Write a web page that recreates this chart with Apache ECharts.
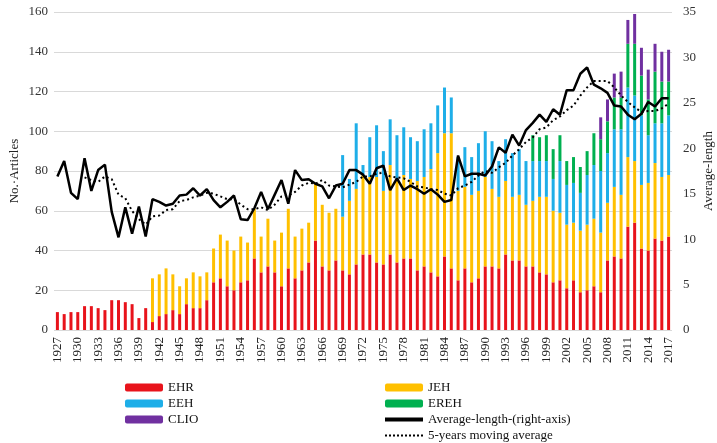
<!DOCTYPE html>
<html>
<head>
<meta charset="utf-8">
<script src="https://cdn.jsdelivr.net/npm/echarts@6/dist/echarts.min.js"></script>
<style>
  html, body { margin: 0; padding: 0; background: #fff; }
  #myChart { width: 717px; height: 443px; }
</style>
</head>
<body>
<div id="myChart"></div>
<script>
// years 1927 - 2017
var years = [];
for (var y = 1927; y <= 2017; y++) years.push(String(y));

// number of articles per journal (stacked)
var ehr = [9,8,9,9,12,12,11,10,15,15,14,13,6,11,
  4,7,8,10,8,13,11,11,15,24,
  26,22,20,24,25,36,29,32,29,22,
  31,26,30,34,45,32,30,35,30,28,
  33,38,38,34,33,38,34,36,36,30,
  32,29,27,37,31,25,31,24,26,32,
  32,31,38,35,35,32,32,29,28,24,
  25,21,25,19,20,22,19,35,37,36,
  52,54,41,40,46,45,47];

var jeh = [null,null,null,null,null,null,null,null,null,null,null,null,null,null,
  22,21,23,18,14,13,18,16,14,17,
  22,23,20,23,19,25,18,24,16,27,
  30,21,21,20,29,31,29,26,27,37,
  38,40,39,43,37,45,41,42,40,45,
  45,52,62,62,68,45,41,44,44,45,
  39,36,37,32,33,31,33,38,39,36,
  34,32,29,31,33,34,30,29,35,32,
  35,31,32,34,38,32,31];

var eeh = [null,null,null,null,null,null,null,null,null,null,
  null,null,null,null,null,null,null,null,null,null,
  null,null,null,null,null,null,null,null,null,null,
  null,null,null,null,null,null,null,null,null,null,
  null,null,
  31,11,
  33,5,20,26,20,23,23,24,21,20,
  24,23,24,23,18,17,20,19,24,23,
  24,18,21,22,23,22,20,18,18,16,
  26,20,20,19,25,27,31,25,29,33,
  35,33,35,24,20,27,30];

var ereh = [null,null,null,null,null,null,null,null,null,null,
  null,null,null,null,null,null,null,null,null,null,
  null,null,null,null,null,null,null,null,null,null,
  null,null,null,null,null,null,null,null,null,null,
  null,null,null,null,null,null,null,null,null,null,
  null,null,null,null,null,null,null,null,null,null,
  null,null,null,null,null,null,null,null,null,null,
  13,12,13,15,
  13,12,13,13,12,16,16,16,16,16,
  22,26,20,18,26,21,17];

var clio = [null,null,null,null,null,null,null,null,null,null,
  null,null,null,null,null,null,null,null,null,null,
  null,null,null,null,null,null,null,null,null,null,
  null,null,null,null,null,null,null,null,null,null,
  null,null,null,null,null,null,null,null,null,null,
  null,null,null,null,null,null,null,null,null,null,
  null,null,null,null,null,null,null,null,null,null,
  null,null,null,null,null,null,null,null,null,null,
  11,11,12,13,
  12,15,14,15,14,15,16];

// average length (right axis)
var avgLength = [16.9,18.6,15.1,14.4,18.9,15.3,17.6,18.2,13.0,10.2,
  13.5,10.6,13.6,10.3,14.4,14.1,13.7,13.9,14.8,14.9,
  15.6,14.8,15.5,14.3,13.5,14.1,14.8,12.2,12.1,13.4,
  15.2,13.3,14.9,16.5,13.9,17.6,16.5,16.6,16.1,15.8,
  14.5,15.9,16.1,17.6,17.6,17.1,16.1,17.8,18.1,15.4,
  16.7,15.4,15.9,15.5,15.0,15.5,14.9,14.1,14.3,19.2,
  16.9,17.2,17.2,17.0,18.0,20.1,19.5,21.5,20.3,22.0,
  22.8,23.7,22.9,24.3,23.7,26.4,26.4,28.2,28.9,27.0,
  26.6,26.1,24.7,24.6,23.7,23.2,23.8,25.1,24.6,25.5,
  25.5];

// 5-years moving average
var movingAvg = [null,null,null,null,
  16.8,16.5,16.3,16.9,16.6,14.9,14.5,13.1,12.2,11.6,
  12.5,12.6,13.2,13.3,14.2,14.3,14.6,14.8,15.1,15.0,
  14.7,14.4,14.4,13.8,13.3,13.3,13.5,13.2,13.8,14.7,
  14.8,15.2,15.9,16.2,16.1,16.5,15.9,15.8,15.7,16.0,
  16.3,16.9,16.9,17.2,17.3,16.9,16.8,16.7,16.3,15.8,
  15.7,15.5,15.4,15.0,14.8,15.6,15.9,16.3,17.0,17.5,
  17.3,17.9,18.4,19.2,19.9,20.7,21.2,22.1,22.3,23.1,
  23.5,24.2,24.7,25.8,26.7,27.4,27.4,27.4,26.7,25.8,
  25.1,24.5,24.0,24.1,24.1,24.4,24.9];

var serif = '"Liberation Serif", "DejaVu Serif", serif';

function barSeries(name, data, color) {
  return {
    name: name,
    type: 'bar',
    stack: 'articles',
    barWidth: 3,
    data: data,
    itemStyle: { color: color }
  };
}

var legendText = { fontFamily: serif, fontSize: 13, lineHeight: 13, color: '#111' };

var myChart = echarts.init(document.getElementById('myChart'));
myChart.setOption({
  animation: false,
  textStyle: { fontFamily: serif },
  grid: { left: 54, right: 45, top: 12, bottom: 113, containLabel: false, outerBoundsMode: 'none' },
  legend: [{
    orient: 'vertical',
    left: 125,
    top: 381,
    padding: 0,
    itemWidth: 38,
    itemHeight: 8,
    itemGap: 3,
    textStyle: legendText,
    data: ['EHR', 'EEH', 'CLIO']
  }, {
    orient: 'vertical',
    left: 383,
    top: 381,
    padding: 0,
    itemWidth: 38,
    itemHeight: 8,
    itemGap: 3,
    textStyle: legendText,
    data: ['JEH', 'EREH', {
      name: 'Average-length-(right-axis)',
      itemStyle: { opacity: 0 },
      lineStyle: { width: 4 }
    }, {
      name: '5-years moving average',
      itemStyle: { opacity: 0 },
      lineStyle: { width: 2, type: [2, 2] }
    }]
  }],
  xAxis: [{
    type: 'category',
    data: years,
    axisLine: { show: false },
    axisTick: { show: false },
    axisLabel: {
      interval: 2,
      rotate: 90,
      margin: 7,
      fontFamily: serif,
      fontSize: 13,
      color: '#222'
    }
  }],
  yAxis: [{
    type: 'value',
    min: 0,
    max: 160,
    interval: 20,
    name: 'No.·Articles',
    nameLocation: 'middle',
    nameRotate: 90,
    nameGap: 33,
    nameMoveOverlap: false,
    nameTextStyle: { fontFamily: serif, fontSize: 13, color: '#222' },
    axisLine: { show: false },
    axisTick: { show: false },
    axisLabel: { fontFamily: serif, fontSize: 13, color: '#333', margin: 6 },
    splitLine: { lineStyle: { color: '#d9d9d9', width: 1 } }
  }, {
    type: 'value',
    min: 0,
    max: 35,
    interval: 5,
    position: 'right',
    name: 'Average-length',
    nameLocation: 'middle',
    nameRotate: 90,
    nameGap: 30,
    nameMoveOverlap: false,
    nameTextStyle: { fontFamily: serif, fontSize: 13, color: '#222' },
    axisLine: { show: false },
    axisTick: { show: false },
    axisLabel: { fontFamily: serif, fontSize: 13, color: '#333', margin: 11 },
    splitLine: { show: false }
  }],
  series: [
    barSeries('EHR', ehr, '#e8131b'),
    barSeries('JEH', jeh, '#ffc000'),
    barSeries('EEH', eeh, '#1eaee8'),
    barSeries('EREH', ereh, '#00b050'),
    barSeries('CLIO', clio, '#7030a0'),
    {
      name: 'Average-length-(right-axis)',
      type: 'line',
      yAxisIndex: 1,
      symbol: 'none',
      data: avgLength,
      itemStyle: { color: '#000' },
      lineStyle: { color: '#000', width: 2.5 },
      z: 4
    },
    {
      name: '5-years moving average',
      type: 'line',
      yAxisIndex: 1,
      symbol: 'none',
      data: movingAvg,
      itemStyle: { color: '#000' },
      lineStyle: { color: '#000', width: 2, type: [2, 3] },
      z: 3
    }
  ]
});
</script>
</body>
</html>
